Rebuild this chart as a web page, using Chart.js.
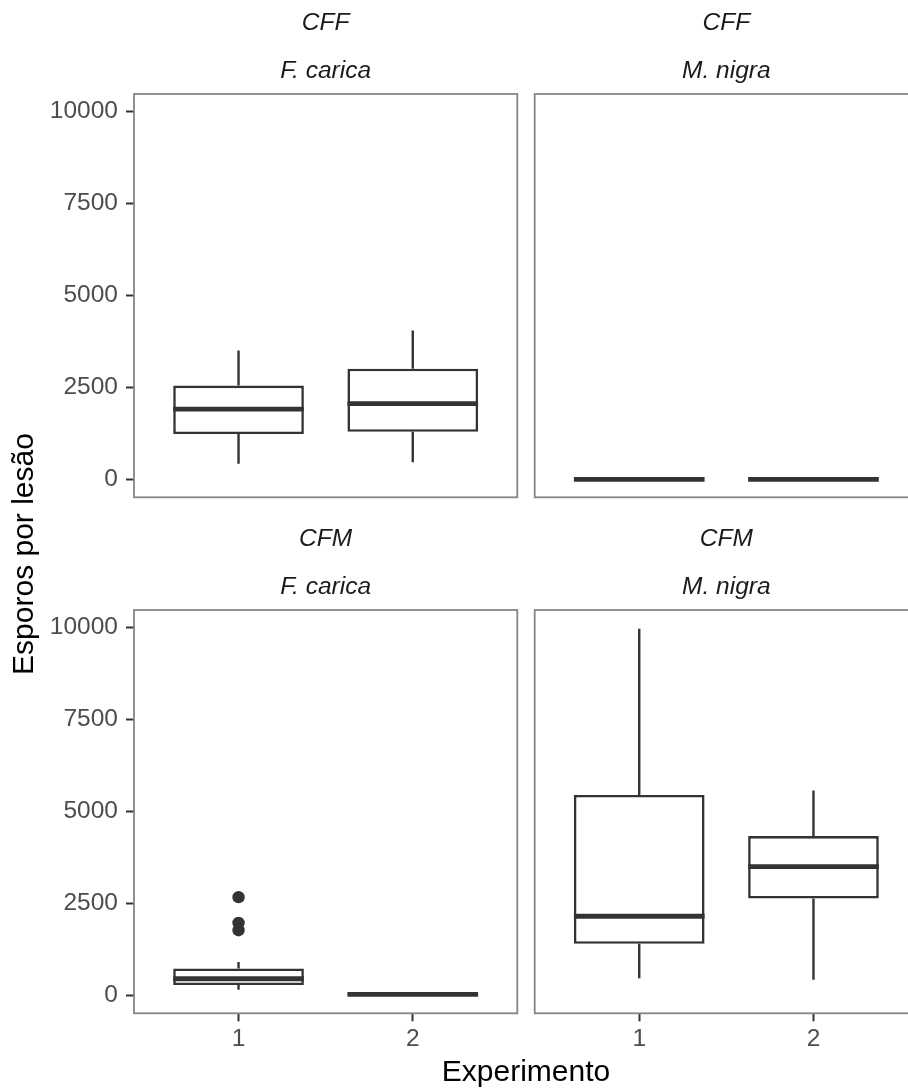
<!DOCTYPE html>
<html>
<head>
<meta charset="utf-8">
<script src="https://cdn.jsdelivr.net/npm/chart.js@4.4.1/dist/chart.umd.min.js"></script>
<style>
html,body{margin:0;padding:0;background:#fff;}
#wrap{position:relative;width:908px;height:1088px;overflow:hidden;background:#fff;font-family:"Liberation Sans",Arial,sans-serif;}
canvas{position:absolute;}
.t{position:absolute;white-space:nowrap;text-align:center;width:400px;}
.strip{font-style:italic;font-size:24.5px;line-height:30px;color:#1a1a1a;}
.axt{font-size:30px;line-height:36px;color:#000;}
</style>
</head>
<body>
<div id="wrap">
  <canvas id="c0" width="526" height="505" style="left:0;top:0"></canvas>
  <canvas id="c1" width="400" height="505" style="left:526px;top:0"></canvas>
  <canvas id="c2" width="526" height="583" style="left:0;top:505px"></canvas>
  <canvas id="c3" width="400" height="583" style="left:526px;top:505px"></canvas>
  <div class="t strip" id="s0a" style="left:125.65px;top:7px"></div>
  <div class="t strip" id="s0b" style="left:125.65px;top:54.8px"></div>
  <div class="t strip" id="s1a" style="left:526.35px;top:7px"></div>
  <div class="t strip" id="s1b" style="left:526.35px;top:54.8px"></div>
  <div class="t strip" id="s2a" style="left:125.65px;top:523px"></div>
  <div class="t strip" id="s2b" style="left:125.65px;top:570.8px"></div>
  <div class="t strip" id="s3a" style="left:526.35px;top:523px"></div>
  <div class="t strip" id="s3b" style="left:526.35px;top:570.8px"></div>
  <div class="t axt" id="xt" style="left:326px;top:1053.3px"></div>
  <div class="t axt" id="yt" style="left:-176.9px;top:535.7px;transform:rotate(-90deg);transform-origin:50% 50%"></div>
</div>
<script>
// ---- data ----
const categories = ['1', '2'];
const yTicks = [0, 2500, 5000, 7500, 10000];
const rowLabels = ['CFF', 'CFM'];
const colLabels = ['F. carica', 'M. nigra'];
const xTitle = 'Experimento';
const yTitle = 'Esporos por lesão';
// five-number summaries per experiment: [lower whisker, Q1, median, Q3, upper whisker]
const cffCarica = [[420, 1230, 1910, 2550, 3500], [460, 1290, 2060, 3010, 4050]];
const cffNigra  = [[0, 0, 0, 0, 0], [0, 0, 0, 0, 0]];
const cfmCarica = [[150, 280, 450, 730, 905], [0, 10, 25, 45, 60]];
const cfmNigra  = [[460, 1400, 2150, 5450, 9970], [420, 2630, 3500, 4330, 5570]];
// outliers per experiment
const cffCaricaOut = [[], []];
const cffNigraOut  = [[], []];
const cfmCaricaOut = [[2670, 1970, 1770], []];
const cfmNigraOut  = [[], []];
const yMin = -490, yMax = 10480;

// ---- styles ----
const INK = '#333333';
const BOX_W = 0.75;
Chart.defaults.font.family = '"Liberation Sans", Arial, sans-serif';
Chart.defaults.animation = false;

const panelBorder = {
  id: 'panelBorder',
  afterDatasetsDraw(chart) {
    const a = chart.chartArea, ctx = chart.ctx;
    ctx.save();
    ctx.strokeStyle = '#858585';
    ctx.lineWidth = 1.8;
    ctx.strokeRect(a.left, a.top, a.right - a.left, a.bottom - a.top);
    ctx.restore();
  }
};

function buildDatasets(stats, outs) {
  const ds = [];
  ds.push({
    type: 'bar',
    data: stats.map((s, i) => ({ x: i + 1, y: [s[1], s[3]] })),
    backgroundColor: '#ffffff', borderColor: INK, borderWidth: 2.6,
    borderSkipped: false, barPercentage: BOX_W, categoryPercentage: 1, order: 1
  });
  stats.forEach((s, i) => {
    const x = i + 1;
    const common = { type: 'line', borderColor: INK, pointRadius: 0, pointHoverRadius: 0, fill: false, tension: 0 };
    ds.push(Object.assign({}, common, { data: [{ x, y: s[0] }, { x, y: s[1] }], borderWidth: 2.4, order: 2 }));
    ds.push(Object.assign({}, common, { data: [{ x, y: s[3] }, { x, y: s[4] }], borderWidth: 2.4, order: 2 }));
    ds.push(Object.assign({}, common, { data: [{ x: x - BOX_W / 2, y: s[2] }, { x: x + BOX_W / 2, y: s[2] }], borderWidth: 4.8, borderCapStyle: 'butt', order: 0 }));
  });
  outs.forEach((arr, i) => {
    if (!arr.length) return;
    ds.push({ type: 'scatter', data: arr.map(v => ({ x: i + 1, y: v })), pointRadius: 6.2, pointHoverRadius: 6.2,
      backgroundColor: INK, borderColor: INK, borderWidth: 0, order: 0 });
  });
  return ds;
}

function makePanel(id, stats, outs, showY, showX, padding) {
  new Chart(document.getElementById(id), {
    type: 'bar',
    data: { datasets: buildDatasets(stats, outs) },
    options: {
      responsive: false,
      animation: false,
      layout: { padding },
      plugins: { legend: { display: false }, tooltip: { enabled: false } },
      scales: {
        x: {
          type: 'linear', min: 0.4, max: 2.6, offset: false, display: showX,
          afterBuildTicks: (sc) => { sc.ticks = categories.map((c, i) => ({ value: i + 1 })); },
          afterFit: (sc) => { sc.height = showX ? 60 : 0; sc.paddingLeft = 0; sc.paddingRight = 0; },
          grid: { display: true, drawOnChartArea: false, drawTicks: true, tickLength: 8, tickColor: INK, tickWidth: 2, offset: false },
          border: { display: false },
          ticks: { padding: 3, color: '#4d4d4d', font: { size: 24.5 }, autoSkip: false, maxRotation: 0,
            callback: (v, i) => categories[i] }
        },
        y: {
          type: 'linear', min: yMin, max: yMax, display: showY,
          afterBuildTicks: (sc) => { sc.ticks = yTicks.map(v => ({ value: v })); },
          afterFit: (sc) => { sc.width = showY ? 134 : 0; sc.paddingTop = 0; sc.paddingBottom = 0; },
          grid: { display: true, drawOnChartArea: false, drawTicks: true, tickLength: 8, tickColor: INK, tickWidth: 2 },
          border: { display: false },
          ticks: { padding: 8, color: '#4d4d4d', font: { size: 24.5 }, autoSkip: false, callback: (v) => String(v) }
        }
      }
    },
    plugins: [panelBorder]
  });
}

makePanel('c0', cffCarica, cffCaricaOut, true, false, { left: 0, top: 94, right: 8.7, bottom: 7.7 });
makePanel('c1', cffNigra, cffNigraOut, false, false, { left: 8.7, top: 94, right: 8, bottom: 7.7 });
makePanel('c2', cfmCarica, cfmCaricaOut, true, true, { left: 0, top: 105, right: 8.7, bottom: 14.7 });
makePanel('c3', cfmNigra, cfmNigraOut, false, true, { left: 8.7, top: 105, right: 8, bottom: 14.7 });

document.getElementById('s0a').textContent = rowLabels[0];
document.getElementById('s1a').textContent = rowLabels[0];
document.getElementById('s2a').textContent = rowLabels[1];
document.getElementById('s3a').textContent = rowLabels[1];
document.getElementById('s0b').textContent = colLabels[0];
document.getElementById('s1b').textContent = colLabels[1];
document.getElementById('s2b').textContent = colLabels[0];
document.getElementById('s3b').textContent = colLabels[1];
document.getElementById('xt').textContent = xTitle;
document.getElementById('yt').textContent = yTitle;
</script>
</body>
</html>
